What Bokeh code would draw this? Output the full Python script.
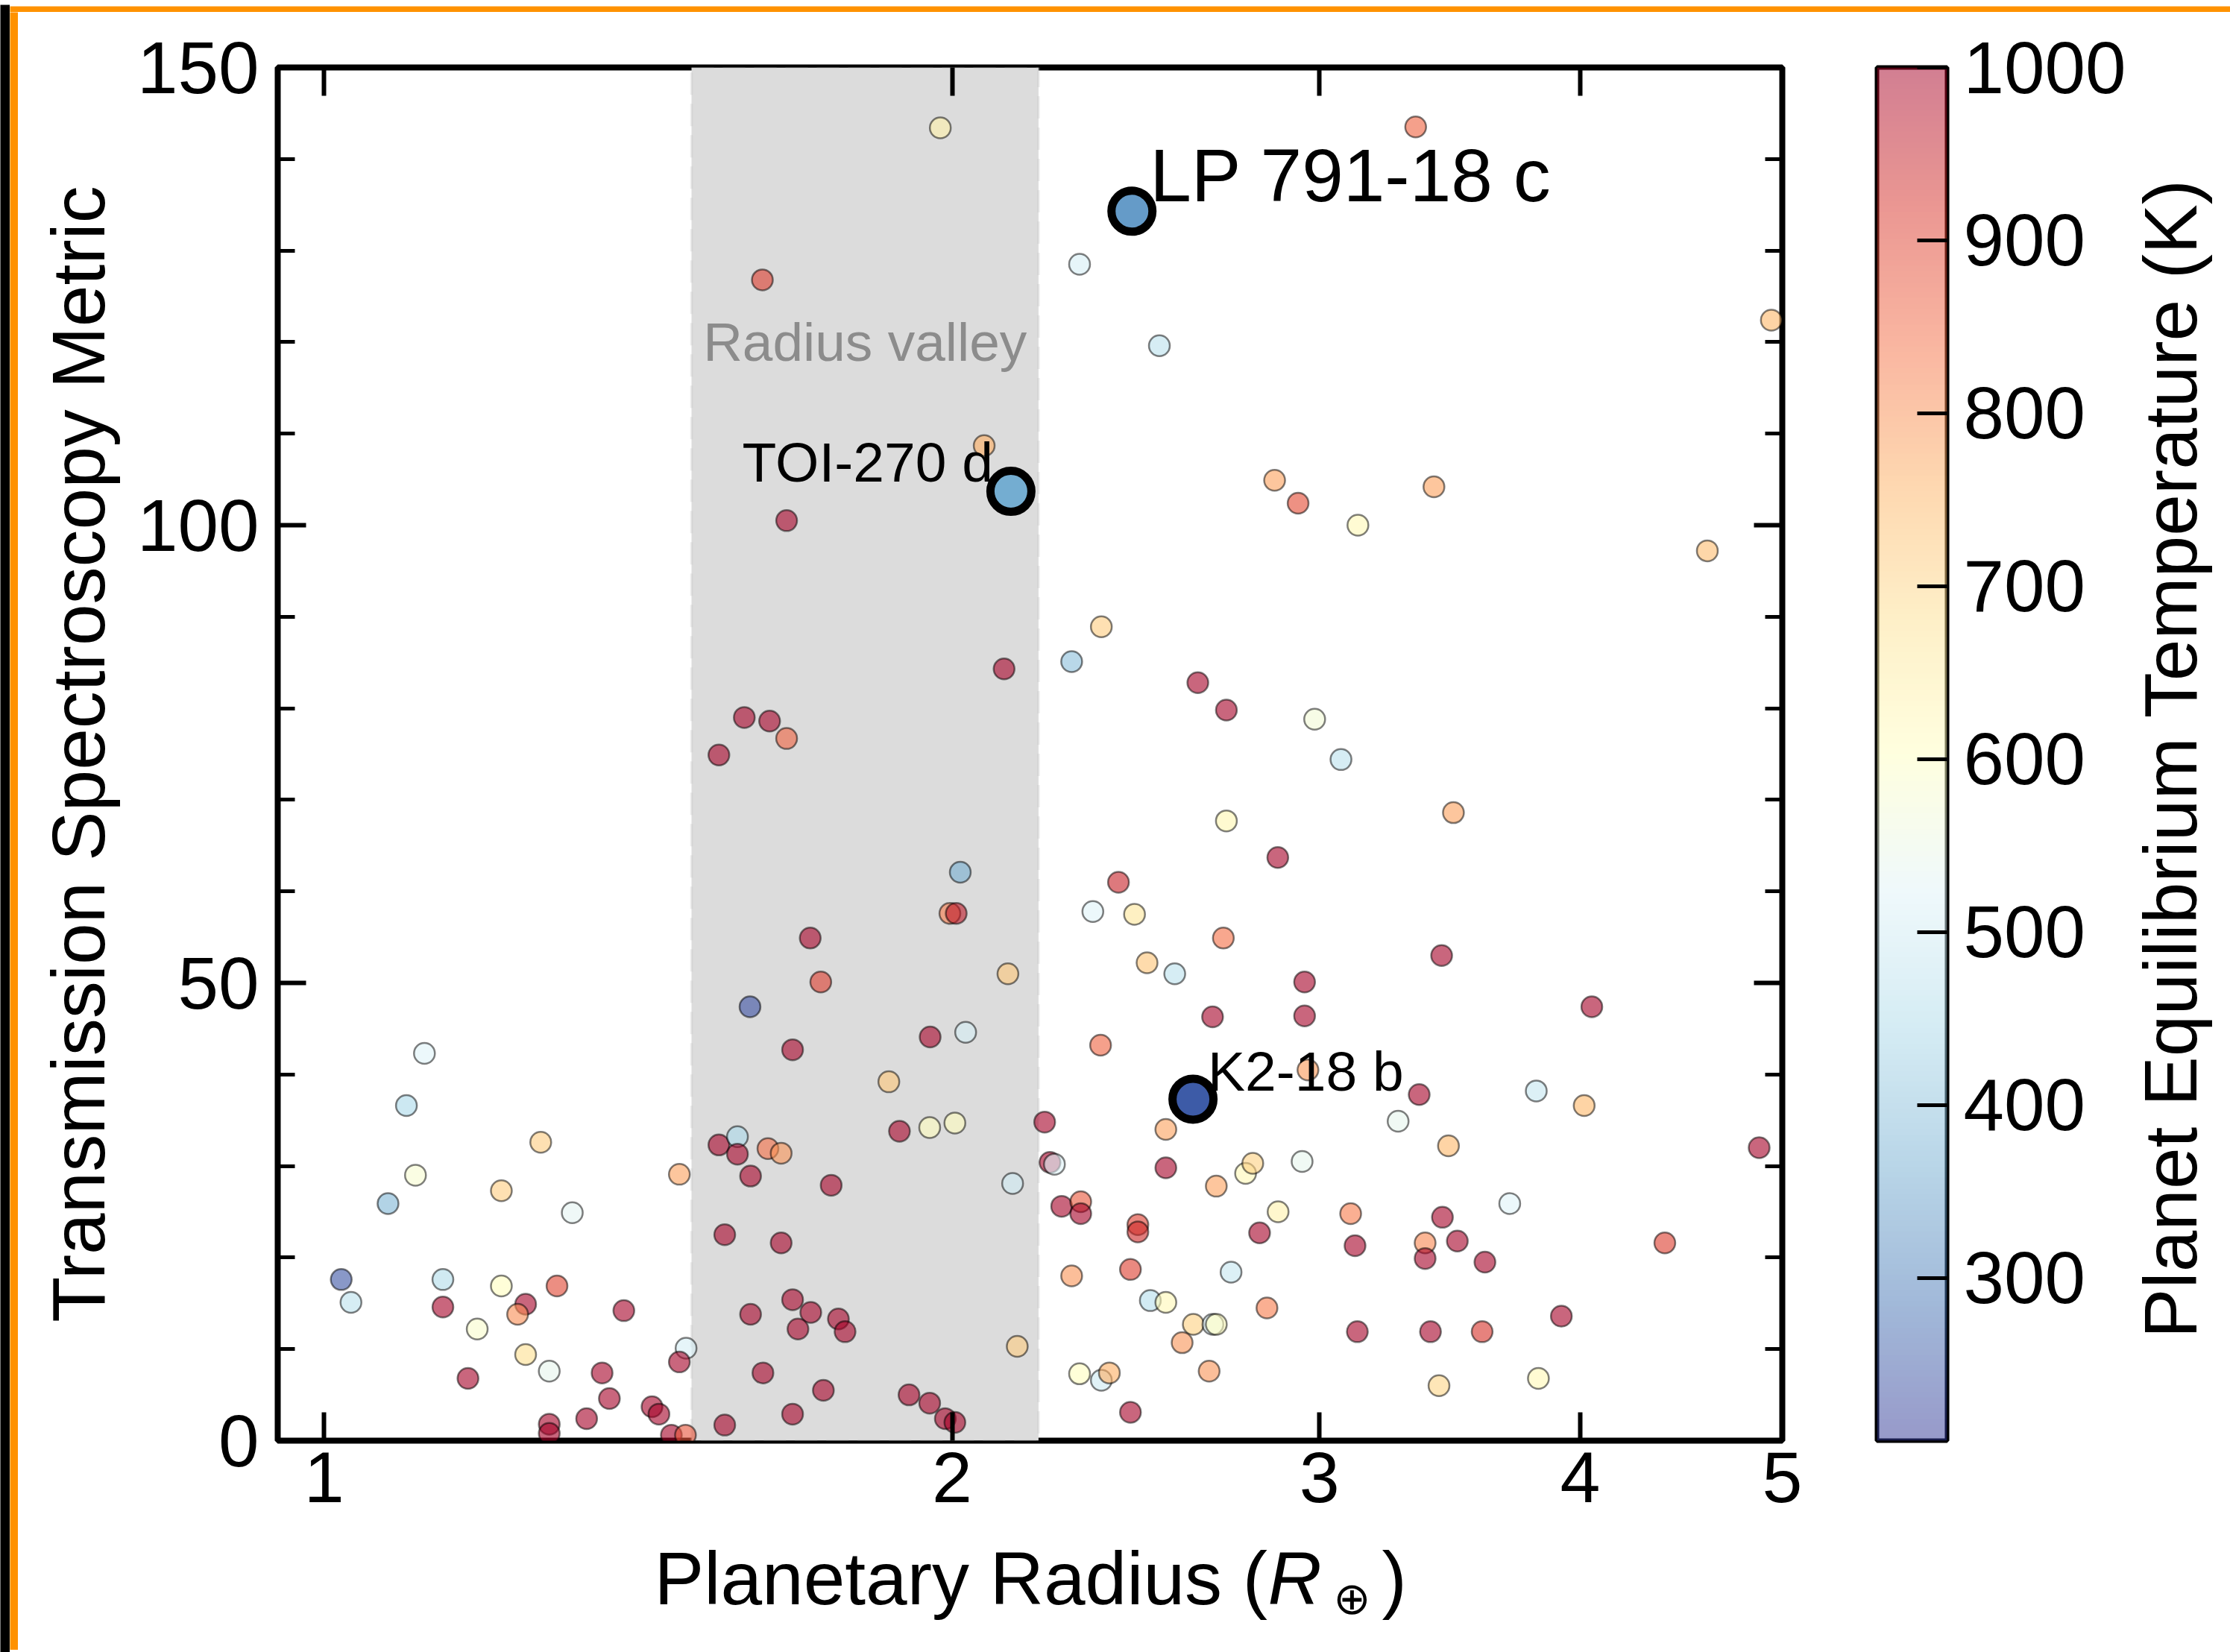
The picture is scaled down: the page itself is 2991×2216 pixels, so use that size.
import numpy as np
from bokeh.plotting import figure
from bokeh.layouts import row, column
from bokeh.models import (ColumnDataSource, LinearColorMapper, FixedTicker, LogAxis, LinearAxis,
                          BoxAnnotation, PrintfTickFormatter, Range1d)
from bokeh.core.properties import value
from bokeh.embed import file_html
from bokeh.resources import INLINE

# ---------------------------------------------------------------- data
RADIUS = [
    1.974, 3.336, 1.622, 2.302, 2.514, 4.940, 2.072, 1.666, 2.855, 2.930,
    3.130, 3.404, 4.603, 2.358, 2.118, 2.282, 2.623, 2.707, 2.984, 3.072,
    1.590, 1.635, 1.666, 1.546, 2.707, 3.478, 2.018, 2.865, 2.403, 1.995,
    2.009, 2.336, 2.446, 1.710, 2.698, 3.433, 1.730, 2.951, 2.127, 2.480,
    2.557, 1.600, 2.666, 2.951, 4.052, 1.952, 2.030, 1.677, 2.356, 1.117,
    1.095, 1.270, 1.106, 1.216, 1.073, 1.315, 1.480, 1.546, 1.578, 1.578,
    1.632, 1.656, 1.601, 1.750, 1.556, 1.656, 1.019, 1.030, 1.140, 1.140,
    1.216, 1.249, 1.238, 1.293, 1.392, 1.184, 1.249, 1.282, 1.172, 1.359,
    1.370, 1.336, 1.282, 1.282, 1.436, 1.447, 1.467, 1.490, 1.491, 1.480,
    1.556, 1.623, 1.677, 1.711, 1.687, 1.601, 1.677, 1.735, 1.764, 1.777,
    1.865, 2.962, 1.887, 1.951, 2.006, 2.215, 2.532, 2.228, 2.239, 2.138,
    2.532, 2.677, 2.765, 2.787, 2.943, 2.257, 2.305, 2.305, 2.455, 2.455,
    2.808, 2.866, 2.282, 2.435, 2.721, 2.489, 2.532, 2.831, 2.610, 2.667,
    2.677, 2.578, 2.656, 2.302, 2.358, 2.379, 2.435, 2.149, 1.907, 1.951,
    1.985, 2.006, 3.349, 3.272, 3.811, 4.018, 3.459, 4.874, 3.701, 3.105,
    3.436, 3.120, 3.371, 3.371, 3.493, 3.601, 4.392, 3.128, 3.391, 3.590,
    3.918, 3.423, 3.820,
]
TSM = [
    143.4, 143.5, 126.8, 128.5, 119.6, 122.4, 108.7, 100.5, 104.9, 102.4,
    100.0, 104.2, 97.2, 88.9, 84.3, 85.1, 82.8, 79.8, 78.8, 74.4,
    79.0, 78.6, 76.7, 74.9, 67.7, 68.6, 62.1, 63.7, 61.0, 57.6,
    57.6, 57.8, 57.5, 54.9, 54.9, 53.0, 50.1, 50.1, 51.0, 52.2,
    51.0, 47.4, 46.3, 46.4, 47.4, 44.1, 44.6, 42.7, 43.2, 42.3,
    36.6, 32.6, 29.0, 27.3, 25.9, 24.9, 29.1, 32.3, 33.2, 31.3,
    31.9, 31.4, 28.9, 27.9, 22.5, 21.6, 17.6, 15.1, 17.6, 14.6,
    16.9, 14.9, 13.8, 16.9, 14.2, 12.2, 9.4, 7.6, 6.8, 7.4,
    4.6, 2.4, 1.8, 0.8, 3.7, 2.9, 0.6, 0.6, 10.1, 8.6,
    1.7, 7.4, 15.4, 14.0, 12.2, 13.8, 2.9, 5.5, 13.3, 11.9,
    39.2, 40.5, 33.8, 34.2, 34.7, 34.8, 34.0, 30.4, 30.2, 28.1,
    29.8, 27.8, 29.2, 30.3, 30.5, 25.6, 26.1, 24.8, 23.6, 22.8,
    22.7, 25.0, 18.0, 18.7, 18.4, 15.3, 15.1, 14.5, 12.7, 12.7,
    12.7, 10.7, 7.6, 7.3, 6.6, 7.4, 3.1, 10.3, 5.0, 4.1,
    2.4, 2.0, 37.8, 34.9, 38.2, 36.6, 32.2, 32.0, 25.9, 24.8,
    24.4, 21.3, 21.6, 19.9, 21.8, 19.5, 21.6, 11.9, 11.9, 11.9,
    13.6, 6.0, 6.8,
]
TEQ = [
    640, 855, 905, 508, 468, 746, 762, 1000, 778, 890,
    619, 778, 738, 714, 1000, 397, 1000, 1000, 571, 468,
    1000, 1000, 857, 1000, 627, 778, 365, 1000, 945, 825,
    960, 524, 666, 1000, 841, 1000, 905, 1000, 722, 730,
    468, 238, 1000, 1000, 1000, 1000, 508, 1000, 857, 524,
    444, 714, 579, 714, 381, 532, 778, 1000, 444, 1000,
    841, 794, 1000, 1000, 1000, 1000, 246, 468, 452, 1000,
    603, 1000, 802, 897, 1000, 587, 682, 540, 1000, 1000,
    1000, 1000, 1000, 1000, 1000, 1000, 1000, 873, 508, 1000,
    1000, 1000, 1000, 1000, 1000, 1000, 1000, 1000, 1000, 1000,
    722, 786, 1000, 603, 603, 1000, 778, 1000, 524, 500,
    1000, 778, 619, 706, 540, 1000, 873, 1000, 905, 936,
    1000, 635, 794, 905, 484, 460, 619, 825, 706, 524,
    603, 794, 794, 603, 492, 762, 1000, 714, 1000, 1000,
    1000, 1000, 1000, 540, 484, 746, 746, 1000, 524, 825,
    1000, 1000, 810, 1000, 1000, 1000, 905, 1000, 1000, 921,
    1000, 698, 619,
]

HL_NAMES = ["LP 791-18 c", "TOI-270 d", "K2-18 b"]
HL_RADIUS = [2.439, 2.134, 2.609]
HL_TSM = [134.3, 103.7, 37.3]
HL_TEQ = [341, 365, 254]

VALLEY = [1.5, 2.2]
X_RANGE = (0.95, 5)
X_TICKS = [1, 2, 3, 4, 5]
Y_TICKS = [0, 50, 100, 150]
Y_MINOR = [0, 10, 20, 30, 40, 50, 60, 70, 80, 90, 100, 110, 120, 130, 140, 150]
T_TICKS = [300, 400, 500, 600, 700, 800, 900, 1000]
T_LOW, T_HIGH = 206, 1000
CB_TITLE = "Planet Equilibrium Temperature (K)"

# ---------------------------------------------------------------- colours
RDYLBU_R = ["#313695", "#4575b4", "#74add1", "#abd9e9", "#e0f3f8", "#ffffbf",
            "#fee090", "#fdae61", "#f46d43", "#d73027", "#a50026"]


def lerp_palette(colors, n):
    rgb = np.array([[int(c[i:i + 2], 16) for i in (1, 3, 5)] for c in colors], float)
    pos = np.linspace(0, 1, len(colors))
    t = np.linspace(0, 1, n)
    out = np.stack([np.interp(t, pos, rgb[:, k]) for k in range(3)], axis=1)
    return ["#%02x%02x%02x" % tuple(int(round(v)) for v in c) for c in out]


PALETTE = lerp_palette(RDYLBU_R, 256)
mapper = LinearColorMapper(palette=PALETTE, low=T_LOW, high=T_HIGH)

FONT = "Liberation Sans"
TICK_SIZE = "98px"
LABEL_SIZE = "100px"
ORANGE = "#ff9200"

# overall geometry of the drawing area (inside the frame strips)
CONTENT_W, CONTENT_H = 2967, 2197
TOP_H = 2040                       # plots row; the x-axis title sits underneath
P_W, CB_W = 2426, 404
T_W = CONTENT_W - P_W - CB_W


def blank(w, h, fill="white"):
    f = figure(width=w, height=h, x_axis_location=None, y_axis_location=None,
               output_backend="svg", toolbar_location=None,
               min_border=0, background_fill_color=fill, border_fill_color=fill)
    f.outline_line_color = None
    f.grid.visible = False
    return f


# ---------------------------------------------------------------- main panel
p = figure(width=P_W, height=TOP_H, x_axis_type="log",
           x_range=Range1d(*X_RANGE), y_range=Range1d(0, 150),
           output_backend="svg", toolbar_location=None,
           min_border_left=348, min_border_right=60,
           min_border_top=74, min_border_bottom=TOP_H - 1916,
           background_fill_color="white", border_fill_color="white")
p.grid.visible = False
p.outline_line_color = "black"
p.outline_line_width = 8


def style_axis(ax, labels=True):
    ax.axis_line_color = None
    ax.major_tick_in = 38
    ax.major_tick_out = 0
    ax.minor_tick_in = 23
    ax.minor_tick_out = 0
    ax.major_tick_line_width = 6
    ax.minor_tick_line_width = 5
    ax.major_tick_line_color = "black"
    ax.minor_tick_line_color = "black"
    if labels:
        ax.major_label_text_font = FONT
        ax.major_label_text_font_size = TICK_SIZE
        ax.major_label_text_color = "black"
    else:
        ax.major_label_text_font_size = "0px"
        ax.major_label_text_color = None


xax = p.xaxis[0]
xax.ticker = FixedTicker(ticks=X_TICKS, minor_ticks=[])
xax.formatter = PrintfTickFormatter(format="%d")
style_axis(xax)
xax.major_label_text_font_size = "97px"
xax.major_label_standoff = 15

yax = p.yaxis[0]
yax.ticker = FixedTicker(ticks=Y_TICKS, minor_ticks=Y_MINOR)
style_axis(yax)
yax.major_label_standoff = 25
yax.axis_label = "Transmission Spectroscopy Metric"
yax.axis_label_text_font = FONT
yax.axis_label_text_font_size = LABEL_SIZE
yax.axis_label_text_font_style = "normal"
yax.axis_label_text_color = "black"
yax.axis_label_standoff = 20

top_ax = LogAxis(ticker=FixedTicker(ticks=X_TICKS, minor_ticks=[]))
style_axis(top_ax, labels=False)
p.add_layout(top_ax, "above")

right_ax = LinearAxis(ticker=FixedTicker(ticks=Y_TICKS, minor_ticks=Y_MINOR))
style_axis(right_ax, labels=False)
p.add_layout(right_ax, "right")

# radius valley band
p.add_layout(BoxAnnotation(left=VALLEY[0], right=VALLEY[1], fill_color="#dcdcdc", fill_alpha=1.0,
                           line_color="#c4c4c4", line_width=3.5, line_dash="30 12",
                           level="underlay"))
p.text(x=[float(np.sqrt(VALLEY[0] * VALLEY[1]))], y=[120], text=["Radius valley"],
       text_font=value(FONT), text_font_size=value("73px"), text_color="#8c8c8c",
       text_align="center", text_baseline="middle")

# planet sample
src = ColumnDataSource(dict(radius=RADIUS, tsm=TSM, teq=TEQ))
p.scatter("radius", "tsm", source=src, size=28,
          fill_color={"field": "teq", "transform": mapper}, fill_alpha=0.6,
          line_color="black", line_alpha=0.5, line_width=2.5)

# highlighted planets
hl = ColumnDataSource(dict(radius=HL_RADIUS, tsm=HL_TSM, teq=HL_TEQ, name=HL_NAMES))
p.scatter("radius", "tsm", source=hl, size=55,
          fill_color={"field": "teq", "transform": mapper}, fill_alpha=1.0,
          line_color="black", line_width=11)

# name tags (offsets in screen pixels, positive y_offset points down)
NAME_STYLE = {
    "LP 791-18 c": dict(size="100px", dx=24, dy=-48, align="left"),
    "TOI-270 d": dict(size="75px", dx=-24, dy=-39, align="right"),
    "K2-18 b": dict(size="75px", dx=20, dy=-37, align="left"),
}
for name, r, t in zip(HL_NAMES, HL_RADIUS, HL_TSM):
    st = NAME_STYLE[name]
    p.text(x=[r], y=[t], text=[name], x_offset=st["dx"], y_offset=st["dy"],
           text_font=value(FONT), text_font_size=value(st["size"]), text_color="black",
           text_align=st["align"], text_baseline="alphabetic")

# ---------------------------------------------------------------- colour bar
cb = figure(width=CB_W, height=TOP_H, x_range=Range1d(0, 1), y_range=Range1d(T_LOW, T_HIGH),
            y_axis_location="right", output_backend="svg", toolbar_location=None,
            min_border_left=67, min_border_right=CB_W - 67 - 96,
            min_border_top=74, min_border_bottom=TOP_H - 1917,
            background_fill_color="white", border_fill_color="white")
cb.xaxis.visible = False
cb.grid.visible = False
cb.outline_line_color = "black"
cb.outline_line_width = 6
grad = np.linspace(T_LOW, T_HIGH, 512).reshape(-1, 1)
cb.image(image=[grad], x=0, y=T_LOW, dw=1, dh=T_HIGH - T_LOW, color_mapper=mapper,
         global_alpha=0.5)
cax = cb.yaxis[0]
cax.ticker = FixedTicker(ticks=T_TICKS, minor_ticks=[])
cax.axis_line_color = None
cax.major_tick_in = 40
cax.major_tick_out = 0
cax.major_tick_line_width = 5
cax.major_tick_line_color = "black"
cax.minor_tick_line_color = None
cax.major_label_text_font = FONT
cax.major_label_text_font_size = TICK_SIZE
cax.major_label_text_color = "black"
cax.major_label_standoff = 22

# colour bar title, reading upwards from its lower end
tfig = blank(T_W, TOP_H)
tfig.x_range = Range1d(0, T_W)
tfig.y_range = Range1d(0, TOP_H)
tfig.text(x=[56], y=[152], text=[CB_TITLE], angle=np.pi / 2,
          text_font=value(FONT), text_font_size=value(LABEL_SIZE), text_color="black",
          text_align="left", text_baseline="alphabetic")

# ---------------------------------------------------------------- x-axis title
# upright text, italic R and a subscript Earth symbol
XL_H = CONTENT_H - TOP_H
xfig = blank(CONTENT_W, XL_H)
xfig.x_range = Range1d(0, CONTENT_W)
xfig.y_range = Range1d(0, XL_H)
for txt, sx, sy, style, size, font, align in [
    ("Planetary Radius (", 853, 97, "normal", "100px", FONT, "left"),
    ("R", 1676, 97, "italic", "100px", FONT, "left"),
    ("\u2295", 1789, 70, "normal", "60px", "DejaVu Sans", "center"),
    (")", 1829, 97, "normal", "100px", FONT, "left"),
]:
    xfig.text(x=[sx], y=[sy], text=[txt], text_font=value(font), text_font_size=value(size),
              text_font_style=style, text_color="black", text_align=align,
              text_baseline="alphabetic")

content = column(row(p, cb, tfig), xfig)

# thin black / orange frame around the figure
layout = column(
    blank(2991, 6, "black"),
    row(blank(13, 2210, "black"),
        column(blank(2978, 10, ORANGE),
               row(blank(11, CONTENT_H, ORANGE), content),
               blank(2978, 3, ORANGE))),
)

with open("out.html", "w") as f:
    f.write(file_html(layout, INLINE))
